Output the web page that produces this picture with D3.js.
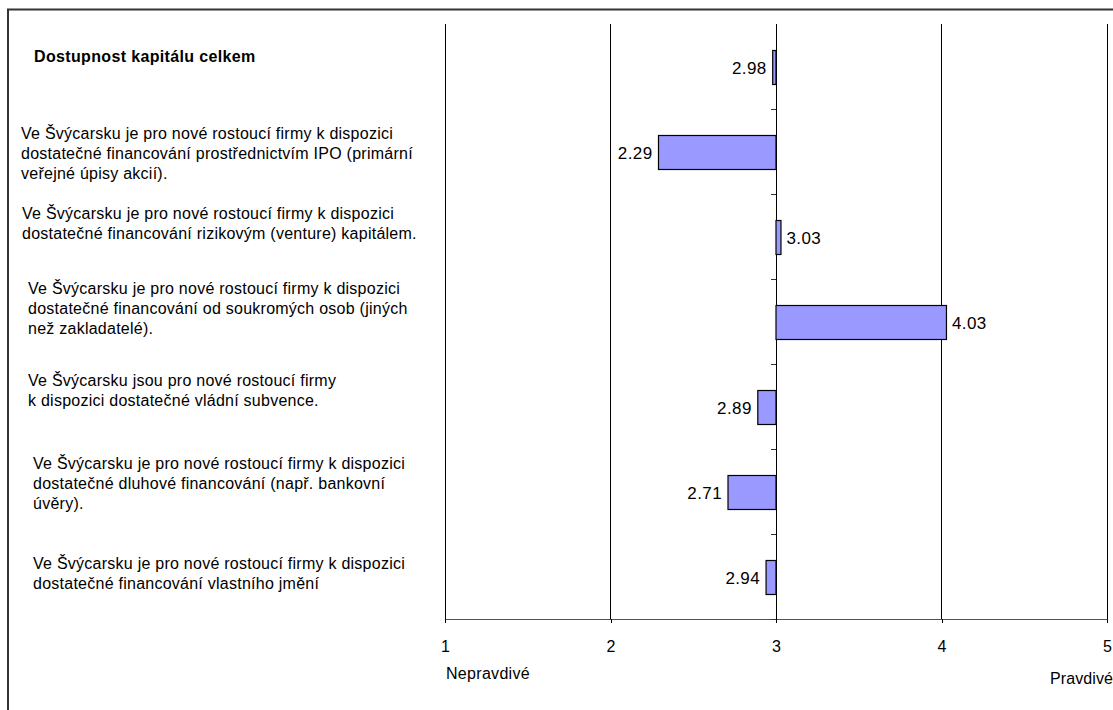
<!DOCTYPE html>
<html><head><meta charset="utf-8">
<script src="https://cdn.jsdelivr.net/npm/d3@7"></script>
<style>
body{margin:0;background:#fff;}
svg{display:block;font-family:"Liberation Sans",Arial,sans-serif;}
</style></head>
<body>
<svg id="chart" width="1113" height="710"></svg>
<script>
// ---- data ----
const categories = [
  ["Dostupnost kapitálu celkem"],
  ["Ve Švýcarsku je pro nové rostoucí firmy k dispozici","dostatečné financování prostřednictvím IPO (primární","veřejné úpisy akcií)."],
  ["Ve Švýcarsku je pro nové rostoucí firmy k dispozici","dostatečné financování rizikovým (venture) kapitálem."],
  ["Ve Švýcarsku je pro nové rostoucí firmy k dispozici","dostatečné financování od soukromých osob (jiných","než zakladatelé)."],
  ["Ve Švýcarsku jsou pro nové rostoucí firmy","k dispozici dostatečné vládní subvence."],
  ["Ve Švýcarsku je pro nové rostoucí firmy k dispozici","dostatečné dluhové financování (např. bankovní","úvěry)."],
  ["Ve Švýcarsku je pro nové rostoucí firmy k dispozici","dostatečné financování vlastního jmění"]
];
const values = [2.98, 2.29, 3.03, 4.03, 2.89, 2.71, 2.94];
const xTicks = [1, 2, 3, 4, 5];
const scaleEnds = ["Nepravdivé", "Pravdivé"];
const baseline = 3;

// ---- layout (not data) ----
const labelX  = [34, 21, 22, 28, 28, 33, 33];
const labelDy = [-10.5, 1.5, -13.5, -13.5, -16.5, -8.5, -3.5];

const svg = d3.select("#chart");

// outer frame
svg.append("rect").attr("x", 8).attr("y", 9.5).attr("width", 1200).attr("height", 800)
  .attr("fill", "none").attr("stroke", "#333").attr("stroke-width", 2);

const x = d3.scaleLinear().domain([1, 5]).range([445, 1107]);
const yBand = d3.scaleBand().domain(d3.range(values.length)).range([24, 619]);
const y = d3.scaleBand().domain(d3.range(values.length)).range([25, 620]).paddingInner(0.6).paddingOuter(0.3);

// vertical gridlines
svg.append("g").selectAll("line").data(xTicks).join("line")
  .attr("x1", d => x(d)).attr("x2", d => x(d))
  .attr("y1", 24).attr("y2", 619)
  .attr("stroke", "#000").attr("stroke-width", 1).attr("shape-rendering", "crispEdges");

// bottom axis
const xAxis = d3.axisBottom(x).tickValues(xTicks).tickFormat(d3.format("d")).tickSize(4).tickPadding(18);
const gx = svg.append("g").attr("transform", "translate(0,619)").call(xAxis);
gx.select(".domain").attr("stroke", "#555").attr("shape-rendering", "crispEdges");
gx.selectAll(".tick line").attr("stroke", "#000").attr("shape-rendering", "crispEdges");
gx.selectAll(".tick text").attr("font-size", 16).attr("font-family", "Liberation Sans, Arial, sans-serif").attr("fill", "#000");

// scale end labels
svg.append("text").attr("x", x(1) + 1).attr("y", 679).attr("font-size", 16).attr("letter-spacing", 0.3)
  .text(scaleEnds[0]);
svg.append("text").attr("x", 1113).attr("y", 684).attr("font-size", 16).attr("letter-spacing", 0.1)
  .attr("text-anchor", "end").text(scaleEnds[1]);

// category axis at value 3
const ticksY = d3.range(values.length + 1).map(i => 24 + i * yBand.step());
const ga = svg.append("g");
ga.append("line").attr("x1", x(baseline)).attr("x2", x(baseline)).attr("y1", 24).attr("y2", 619)
  .attr("stroke", "#000").attr("shape-rendering", "crispEdges");
ga.selectAll("line.t").data(ticksY.slice(1)).join("line").attr("class", "t")
  .attr("x1", x(baseline) - 5).attr("x2", x(baseline)).attr("y1", d => d).attr("y2", d => d)
  .attr("stroke", "#333").attr("shape-rendering", "crispEdges");

// bars
svg.append("g").selectAll("rect").data(values).join("rect")
  .attr("x", d => x(Math.min(d, baseline)))
  .attr("width", d => Math.abs(x(d) - x(baseline)))
  .attr("y", (d, i) => y(i))
  .attr("height", y.bandwidth())
  .attr("fill", "#9999FF").attr("stroke", "#000").attr("stroke-width", 1.2);

// value labels
svg.append("g").selectAll("text").data(values).join("text")
  .attr("x", d => d < baseline ? x(d) - 6 : x(d) + 5.5)
  .attr("y", (d, i) => y(i) + y.bandwidth() / 2 + 6)
  .attr("text-anchor", d => d < baseline ? "end" : "start")
  .attr("font-size", 17).attr("letter-spacing", 0.4)
  .text(d => d.toFixed(2));

// category labels
const lineH = 20;
categories.forEach((lines, i) => {
  const cy = yBand(i) + yBand.bandwidth() / 2 + labelDy[i];
  const t = svg.append("text")
    .attr("font-size", 16).attr("fill", "#000")
    .attr("letter-spacing", i === 0 ? 0.35 : 0.25)
    .attr("font-weight", i === 0 ? "bold" : "normal");
  lines.forEach((ln, j) => {
    t.append("tspan").attr("x", labelX[i])
      .attr("y", cy - (lines.length - 1) * lineH / 2 + j * lineH + 5.7)
      .text(ln);
  });
});
</script>
</body></html>
